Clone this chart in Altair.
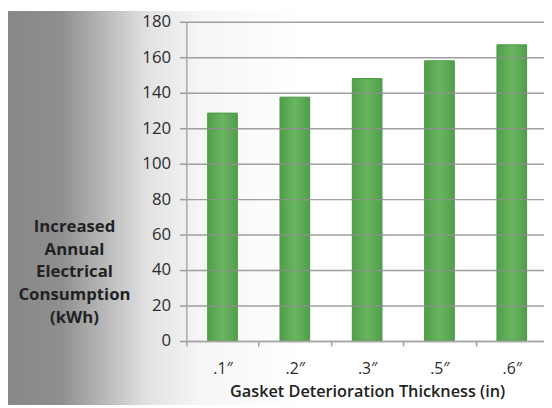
import altair as alt
import pandas as pd

categories = [".1″", ".2″", ".3″", ".5″", ".6″"]
values = [128.5, 137.5, 148, 158, 167]
y_ticks = [0, 20, 40, 60, 80, 100, 120, 140, 160, 180]
y_title = ["Increased", "Annual", "Electrical", "Consumption", "(kWh)"]
x_title = "Gasket Deterioration Thickness (in)"

df = pd.DataFrame({"cat": categories, "val": values})
bg_df = pd.DataFrame({"k": [0]})

FONT = "Open Sans"

bg = alt.Chart(bg_df).mark_rect(
    fill=alt.Gradient(
        gradient="linear", x1=0, x2=1, y1=0, y2=0,
        stops=[
            alt.GradientStop(offset=0, color="#878787"),
            alt.GradientStop(offset=0.1, color="#8f8f8f"),
            alt.GradientStop(offset=0.18, color="#b8b8b8"),
            alt.GradientStop(offset=0.26, color="#e2e2e2"),
            alt.GradientStop(offset=0.36, color="#f6f6f6"),
            alt.GradientStop(offset=0.55, color="#ffffff"),
            alt.GradientStop(offset=1, color="#ffffff"),
        ],
    )
).encode(x=alt.value(-181), x2=alt.value(363), y=alt.value(-11), y2=alt.value(389))

bars = alt.Chart(df).mark_bar(
    fill=alt.Gradient(
        gradient="linear", x1=0, x2=1, y1=0, y2=0,
        stops=[
            alt.GradientStop(offset=0, color="#4f9e4a"),
            alt.GradientStop(offset=0.5, color="#6ab65f"),
            alt.GradientStop(offset=1, color="#4f9e4a"),
        ],
    ),
    stroke="#4a9845",
    strokeWidth=1,
).encode(
    x=alt.X(
        "cat:N",
        sort=categories,
        scale=alt.Scale(range=[0, 367], paddingInner=0.59, paddingOuter=0.295),
        axis=alt.Axis(
            title=x_title,
            labelAngle=0,
            labelFont=FONT,
            labelFontSize=16,
            labelColor="#2b2b2b",
            labelPadding=15,
            tickSize=5,
            tickColor="#a0a0a0",
            tickWidth=1.5,
            tickOffset=-36.7,
            labelOffset=36.7,
            domainColor="#a8a8a8",
            domainWidth=1.5,
            titleFont=FONT,
            titleFontSize=16.5,
            titleFontWeight=600,
            titleColor="#222222",
            titleBaseline="top",
            titleY=43,
            grid=False,
            zindex=1,
        ),
    ),
    y=alt.Y(
        "val:Q",
        scale=alt.Scale(domain=[0, 180], nice=False),
        axis=alt.Axis(
            values=y_ticks,
            title=y_title,
            titleAngle=0,
            titleAlign="center",
            titleBaseline="top",
            titleX=-114,
            titleY=200,
            titleFont=FONT,
            titleFontSize=17,
            titleFontWeight="bold",
            titleColor="#222222",
            titleLineHeight=23,
            labelFont=FONT,
            labelFontSize=17,
            labelColor="#2b2b2b",
            labelPadding=9,
            tickSize=7,
            tickColor="#9a9a9a",
            tickWidth=1.5,
            domainColor="#a8a8a8",
            domainWidth=1.5,
            grid=True,
            gridColor="#8f8f8f",
            gridWidth=1.5,
            gridOpacity=0.85,
            zindex=1,
        ),
    ),
)

chart = alt.layer(bg, bars).properties(
    width=363,
    height=324,
    autosize=alt.AutoSizeParams(type="none"),
    padding={"left": 181, "top": 11, "right": 0, "bottom": 65},
).configure_view(stroke=None)

chart.save("out.html", embed_options={"renderer": "svg", "actions": False})
